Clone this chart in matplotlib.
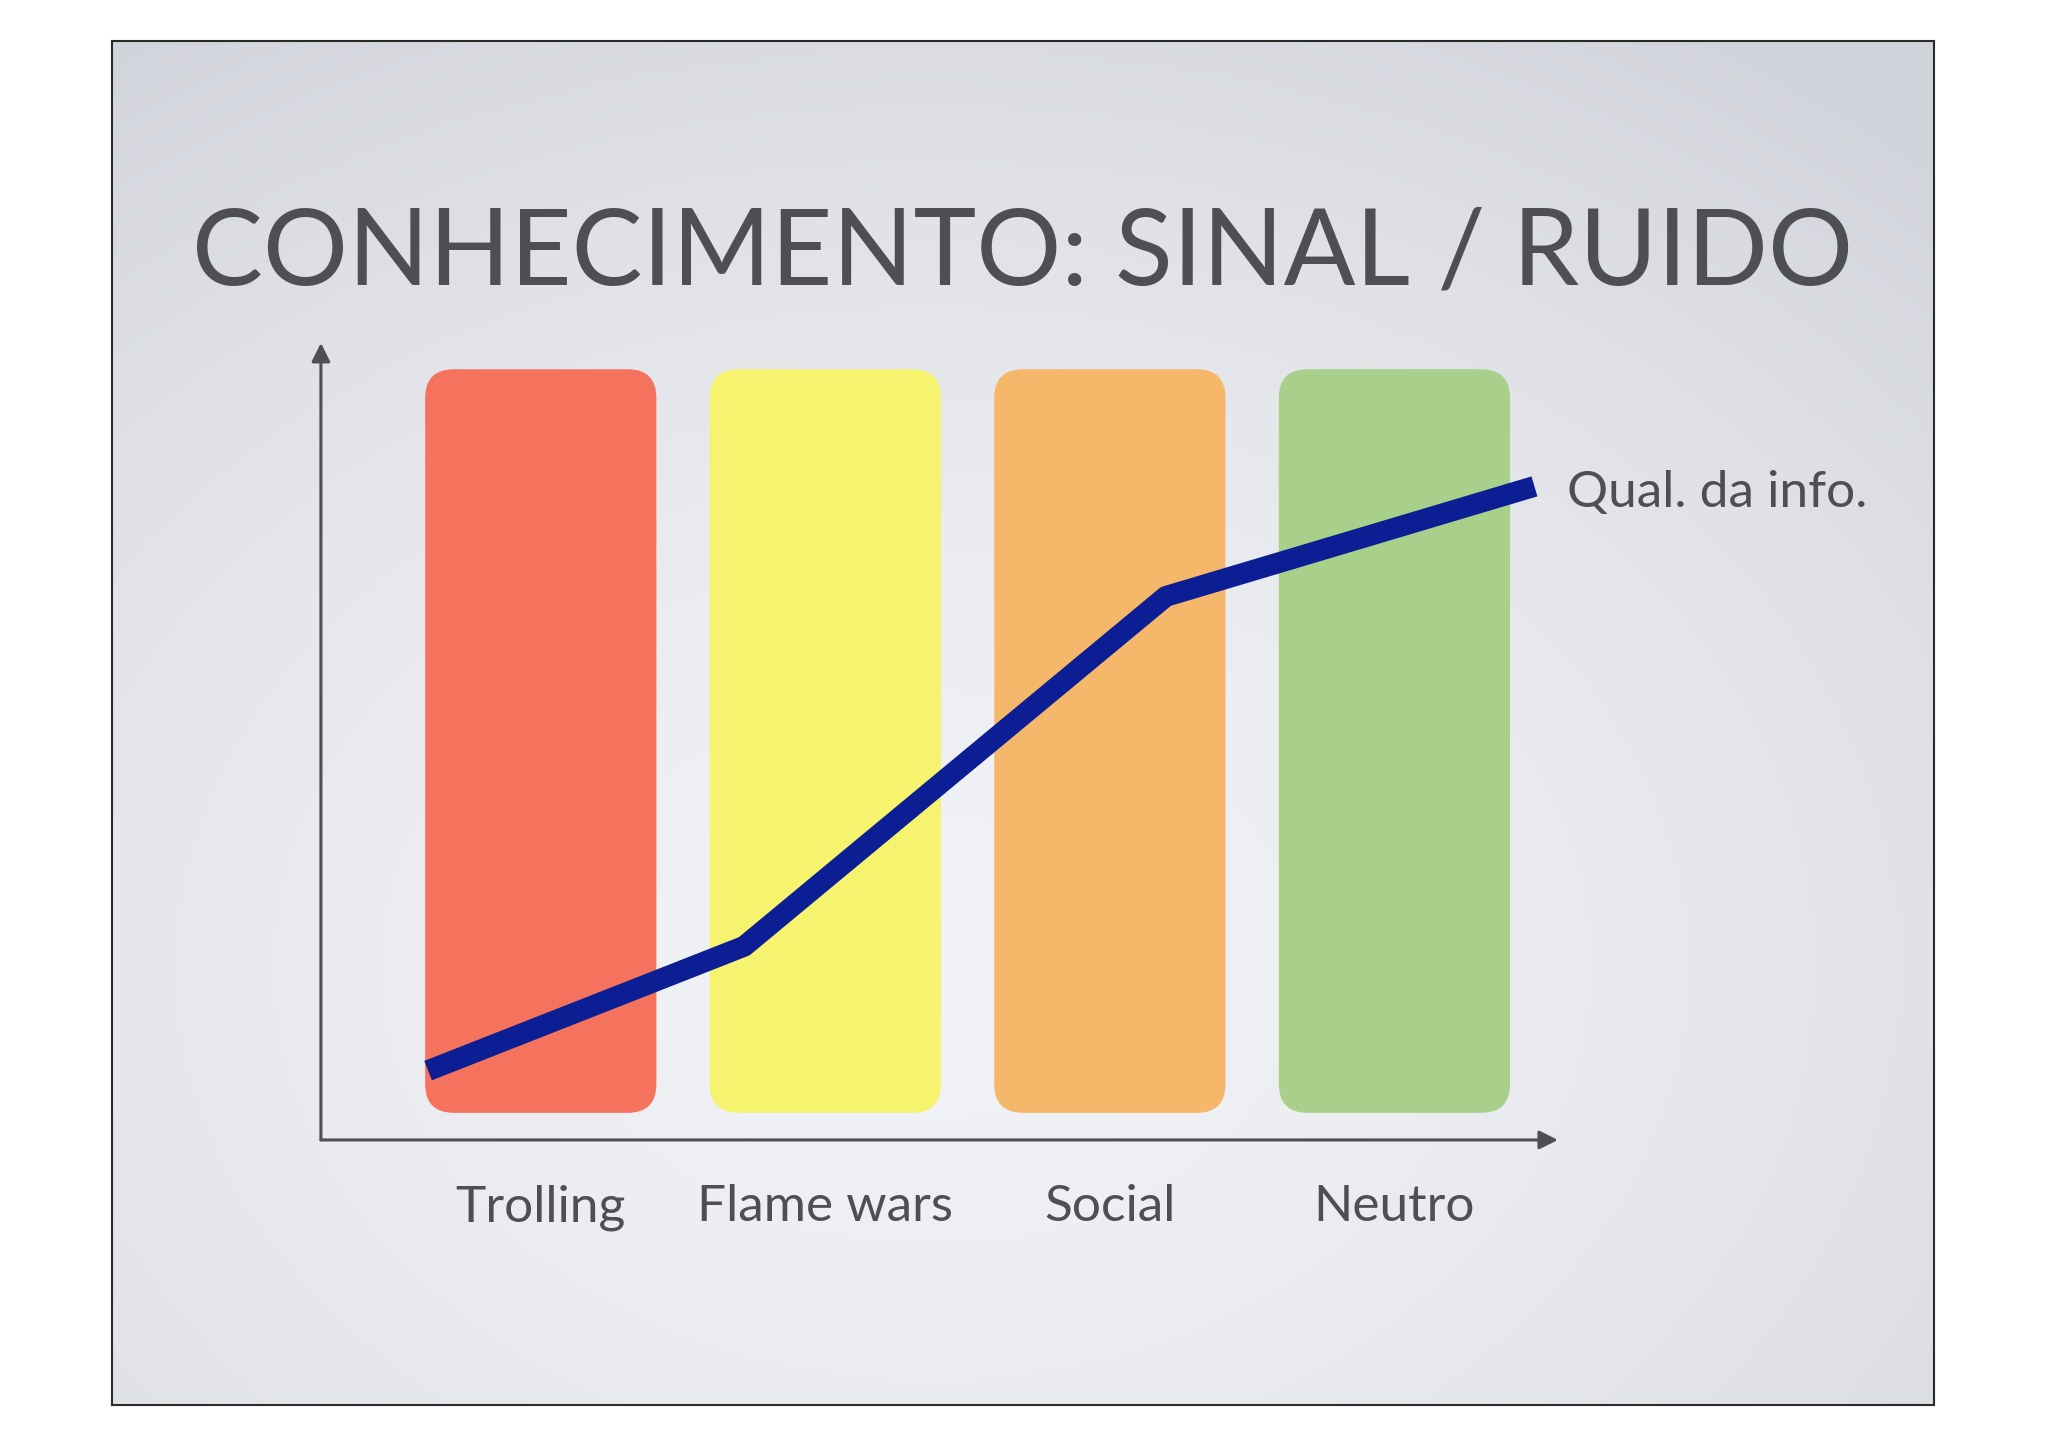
import numpy as np
import matplotlib
matplotlib.use("Agg")
import matplotlib.pyplot as plt
from matplotlib.patches import FancyBboxPatch

# categories (bands) and the quality-of-info line
categories = ['Trolling', 'Flame wars', 'Social', 'Neutro']
band_colors = ['#f5725d', '#f6f36e', '#f5b76a', '#a9d08b']
quality_x = [-0.396, 0.715, 2.197, 3.492]
quality_y = [0.087, 0.243, 0.682, 0.820]
line_label = 'Qual. da info.'
title = 'CONHECIMENTO: SINAL / RUIDO'

text_col = '#4e4f53'
fonts = ['Lato', 'DejaVu Sans']

fig = plt.figure(figsize=(20.48, 14.47), dpi=100)
fig.patch.set_facecolor('white')

# slide background with soft gradient + dark frame
bg = fig.add_axes([0.0547, 0.029, 0.8896, 0.9427])
ny, nx = 300, 450
yy, xx = np.mgrid[0:1:ny * 1j, 0:1:nx * 1j]
r = np.sqrt(((xx - 0.45) / 0.8) ** 2 + ((yy - 0.68) / 0.8) ** 2)
t = np.clip(r, 0, 1) ** 1.6
c0 = np.array([0.945, 0.95, 0.962])
c1 = np.array([0.825, 0.835, 0.86])
img = c0 * (1 - t)[..., None] + c1 * t[..., None]
bg.imshow(img, extent=[0, 1, 0, 1], aspect='auto', origin='upper')
bg.set_xticks([])
bg.set_yticks([])
for s in bg.spines.values():
    s.set_color('#2a2a2a')
    s.set_linewidth(1.5)

fig.text(0.4993, 0.8032, title, ha='center', va='baseline', fontsize=76.5,
         color=text_col, family=fonts)

# chart area
ax = fig.add_axes([0.1567, 0.2122, 0.604, 0.5508])
ax.patch.set_alpha(0)
ax.set_xlim(-0.7726, 3.5745)
ax.set_ylim(0, 1)
for s in ax.spines.values():
    s.set_visible(False)
ax.set_yticks([])

bw = 0.8125
for i, col in enumerate(band_colors):
    p = FancyBboxPatch((i - bw / 2, 0.034), bw, 0.933,
                       boxstyle='round,pad=0,rounding_size=0.101',
                       mutation_aspect=0.357, fc=col, ec='none', zorder=1)
    ax.add_patch(p)

ax.plot(quality_x, quality_y, color='#0b1e93', lw=15,
        solid_joinstyle='round', solid_capstyle='butt', zorder=3)

ax.annotate('', xy=(0, 1), xytext=(0, 0), xycoords='axes fraction',
            arrowprops=dict(arrowstyle='-|>', lw=2.2, color=text_col,
                            mutation_scale=28, shrinkA=0, shrinkB=0))
ax.annotate('', xy=(1, 0), xytext=(0, 0), xycoords='axes fraction',
            arrowprops=dict(arrowstyle='-|>', lw=2.2, color=text_col,
                            mutation_scale=28, shrinkA=0, shrinkB=0))

ax.set_xticks(range(len(categories)))
ax.set_xticklabels(categories, fontsize=37, color=text_col, family=fonts)
ax.tick_params(axis='x', length=0, pad=32)

fig.text(0.7652, 0.6498, line_label, ha='left', va='baseline', fontsize=37,
         color=text_col, family=fonts)

fig.savefig('out.png', dpi=100)
